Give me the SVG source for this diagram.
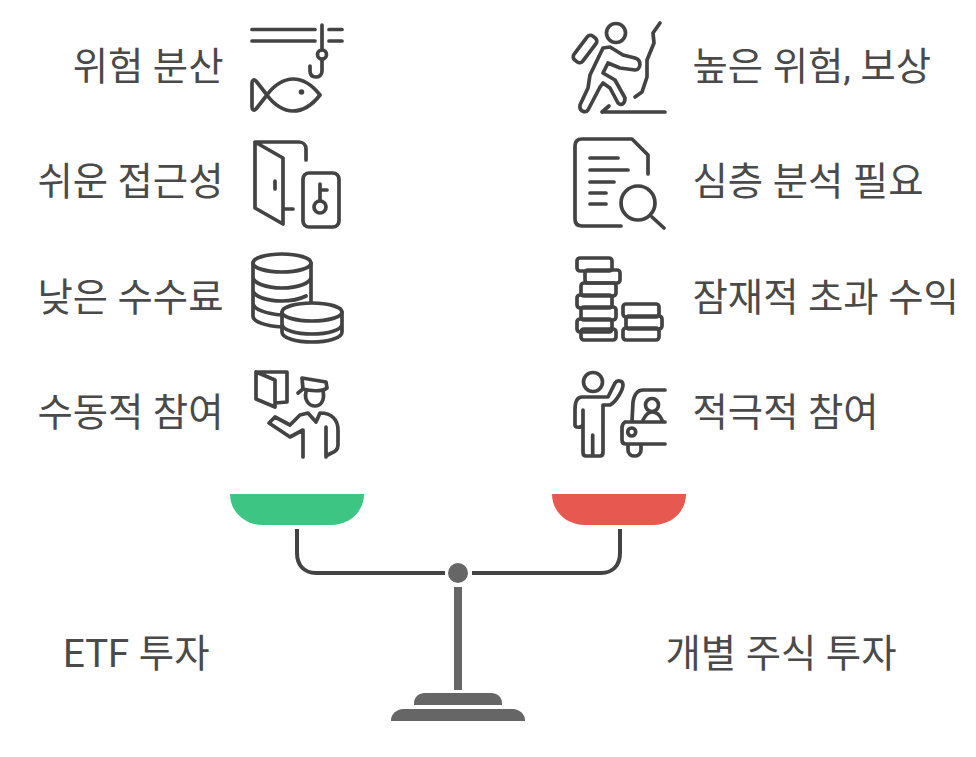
<svg xmlns="http://www.w3.org/2000/svg" width="976" height="757" viewBox="0 0 976 757">
<style>
text{font-family:Roboto,"Noto Sans CJK KR",sans-serif;font-size:38.400px;font-weight:400;fill:#4a4a4a}
.e{text-anchor:end}
.i{fill:none;stroke:#434343;stroke-width:3.700px;stroke-linecap:round;stroke-linejoin:round}
.g{fill:#666}
</style>
<rect width="976" height="757" fill="#fff"/>
<g id="pan-left"><path d="M230 494H364V494C364 512 349 525 331 525H263C245 525 230 512 230 494Z" fill="#3cc583"/></g>
<g id="pan-right"><path d="M552 494H686V494C686 512 671 525 653 525H585C567 525 552 512 552 494Z" fill="#e65850"/></g>
<g id="connectors">
<path d="M297 529V553C297 565 304 573 316 573H445" fill="none" stroke="#434343" stroke-width="4"/>
<path d="M620 529V553C620 565 613 573 601 573H472" fill="none" stroke="#434343" stroke-width="4"/>
</g>
<g id="stand">
<circle class="g" cx="458" cy="573" r="10"/>
<rect class="g" x="454" y="587" width="8" height="103"/>
<path class="g" d="M414 705V703C414 697 419 693 425 693H491C497 693 502 697 502 703V705Z"/>
<path class="g" d="M391 721V720C391 714 397 709 403 709H513C519 709 525 714 525 720V721Z"/>
</g>
<g id="etf-label"><text x="63" y="667">ETF 투자</text></g>
<g id="stock-label"><text x="665.500" y="667">개별 주식 투자</text></g>
<g id="l1"><text class="e" x="223.500" y="80">위험 분산</text>
<g class="i"><path d="M252 29.500H315M252 41H315M329 29.500H342M329 41H342M322 25V50"/><circle cx="322" cy="54.500" r="4.500"/><path d="M322 59V71C322 75 319 77 316 77C312 77 310 75 310 71V66"/><path d="M267 95C274 85 284 79 293 79C303 79 313 86 320 95C313 104 303 111 293 111C284 111 274 105 267 95ZM267 95L256 81C254 79 252 80 252 83V107C252 110 254 111 256 109Z"/></g><circle cx="301.500" cy="92" r="2.800" fill="#434343"/></g>
<g id="l2"><text class="e" x="223.500" y="195">쉬운 접근성</text>
<g class="i"><path d="M255 142V208L283 224V158L255 142H299C303 142 306 145 306 149V160M285 209H293M275 181V189"/><rect x="303" y="173" width="36" height="54" rx="6"/><circle cx="320" cy="207" r="6"/><path d="M320 201V184M320 190H327"/></g></g>
<g id="l3"><text class="e" x="223.500" y="311">낮은 수수료</text>
<g class="i"><ellipse cx="282" cy="263" rx="29" ry="9"/><path d="M253 263V316C253 322 266 326 282 327M311 263V301M253 277C253 283 266 288 282 288C298 288 311 283 311 277M253 290C253 296 266 301 282 301C291 301 300 299 306 296M253 303C253 309 266 314 282 315"/><ellipse cx="312" cy="312" rx="30" ry="9"/><path d="M282 312V332C282 338 296 342 312 342C328 342 342 338 342 332V312M282 324C282 330 296 334 312 334C328 334 342 330 342 324"/></g></g>
<g id="l4"><text class="e" x="223.500" y="426">수동적 참여</text>
<g class="i"><path d="M256 372H287V402L275 403M256 372V399L275 407V380L256 372"/><path d="M302 378L326 382 327 388C322 392 310 391 303 389ZM303 389L298 393"/><path d="M306 392C304 400 309 406 315 406C321 406 325 400 323 391"/><path d="M303 457V430L290 437 269 423 275 417 290 425 300 415 308 413 316 422 320 413C332 413 338 420 338 430V445C338 452 332 452 326 456M326 427V457"/></g></g>
<g id="r1"><text x="692.500" y="80">높은 위험, 보상</text>
<g class="i"><circle cx="616" cy="33" r="9.500"/><rect x="-5.500" y="-15" width="11" height="30" rx="4" transform="translate(585 49) rotate(37)"/><path d="M603 48L590 75 588 88 580 105C579 112 586 113 588 110L600 87 603 83 610 88 618 103C621 106 625 104 625 98L615 80 603 73 608 63 620 68 635 70C641 70 642 60 635 58L623 55 610 47ZM602 112H665M602 112L609 106M660 23L653 33 654 43 647 60V77L642 92 635 97"/></g></g>
<g id="r2"><text x="692.500" y="195">심층 분석 필요</text>
<g class="i"><path d="M621 226H582C577 226 575 223 575 219V146C575 141 578 139 582 139H632L648 155V174M590 158H618M590 170H628M590 182H614M590 193H606M590 204H606"/><circle cx="638" cy="203" r="17"/><path d="M652 217L664 228"/></g></g>
<g id="r3"><text x="692.500" y="311">잠재적 초과 수익</text>
<g class="i"><rect x="577" y="258" width="35" height="13" rx="3"/><rect x="585" y="270" width="35" height="13" rx="3"/><rect x="581" y="283" width="35" height="13" rx="3"/><rect x="577" y="295" width="35" height="13" rx="3"/><rect x="581" y="307" width="35" height="13" rx="3"/><rect x="577" y="319" width="35" height="13" rx="3"/><rect x="581" y="329" width="35" height="11" rx="3"/><rect x="623" y="304" width="36" height="13" rx="3"/><rect x="626" y="316" width="36" height="13" rx="3"/><rect x="623" y="328" width="36" height="12" rx="3"/></g></g>
<g id="r4"><text x="692.500" y="426">적극적 참여</text>
<g class="i"><circle cx="593" cy="382" r="9.500"/><path d="M583 410V452C583 455 584 456 586 456H600C602 456 603 455 603 452V405L610 405C616 402 623 390 623 385 623 380 617 380 615 383L608 397H582C577 397 575 402 575 410V425C575 428 581 428 583 425M592.700 435V456"/><path d="M665 390H643C636 390 634 396 633 402L632 421M625 422H665M625 422C622 424 622 426 622 428V440C622 443 624 444 626 444H665M628 445V450C628 458 641 458 641 450V445"/><circle cx="631.700" cy="432" r="4"/><circle cx="652" cy="405" r="6.500"/><path d="M643 420C646 414 649 412 652 412C656 412 660 415 662 420"/></g></g>
</svg>
